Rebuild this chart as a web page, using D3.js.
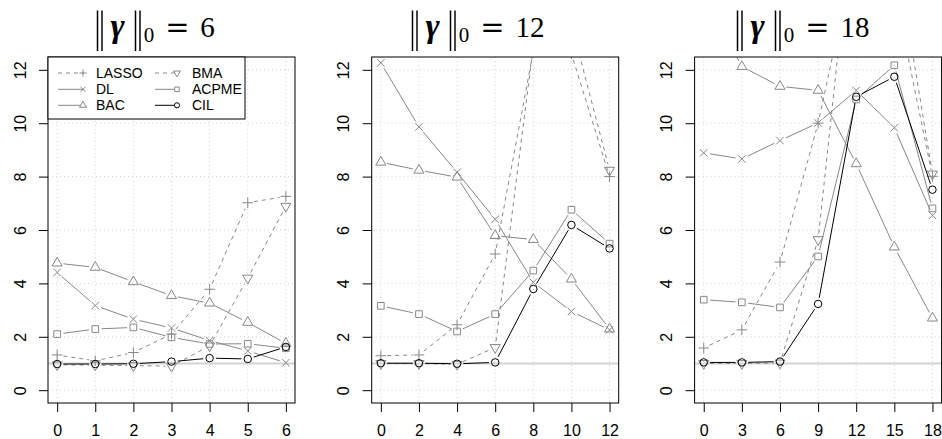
<!DOCTYPE html>
<html>
<head>
<meta charset="utf-8">
<script src="https://cdn.jsdelivr.net/npm/d3@7/dist/d3.min.js"></script>
<style>
  body { margin: 0; background: #fff; }
  svg { display: block; }
</style>
</head>
<body>
<svg id="fig" width="942" height="439"></svg>
<script>
// x positions (number of shifted coefficients) for each panel
const xs1 = [0, 1, 2, 3, 4, 5, 6];
const xs2 = [0, 2, 4, 6, 8, 10, 12];
const xs3 = [0, 3, 6, 9, 12, 15, 18];

// panel titles: ||gamma||_0 values
const sparsity = ["6", "12", "18"];

// y-axis ticks
const yTicks = [0, 2, 4, 6, 8, 10, 12];

// ||gamma||_0 = 6
const lasso1 = [1.32, 1.10, 1.41, 2.10, 3.78, 7.02, 7.26];
const dl1    = [4.41, 3.17, 2.66, 2.33, 1.86, 1.47, 1.03];
const bac1   = [4.76, 4.60, 4.06, 3.54, 3.26, 2.54, 1.75];
const bma1   = [0.95, 0.94, 0.92, 0.90, 1.66, 4.20, 6.89];
const acpme1 = [2.10, 2.29, 2.35, 1.98, 1.73, 1.74, 1.57];
const cil1   = [0.98, 0.98, 0.99, 1.07, 1.20, 1.17, 1.62];

// ||gamma||_0 = 12
const lasso2 = [1.29, 1.32, 2.45, 5.10, 12.70, 12.60, 8.00];
const dl2    = [12.26, 9.86, 8.16, 6.40, 4.04, 2.95, 2.26];
const bac2   = [8.54, 8.24, 7.98, 5.79, 5.64, 4.16, 2.29];
const bma2   = [1.00, 1.00, 0.97, 1.60, 12.90, 13.70, 8.24];
const acpme2 = [3.16, 2.85, 2.20, 2.85, 4.48, 6.76, 5.49];
const cil2   = [1.01, 1.01, 0.99, 1.04, 3.79, 6.19, 5.31];

// ||gamma||_0 = 18
const lasso3 = [1.58, 2.26, 4.80, 10.00, 16.60, 15.00, 8.01];
const dl3    = [8.89, 8.66, 9.35, 10.01, 11.23, 9.83, 6.55];
const bac3   = [14.80, 12.12, 11.38, 11.23, 8.48, 5.36, 2.70];
const bma3   = [1.00, 1.00, 1.02, 5.64, 19.00, 16.80, 8.10];
const acpme3 = [3.39, 3.29, 3.10, 5.01, 10.89, 12.17, 6.81];
const cil3   = [1.04, 1.04, 1.07, 3.23, 10.99, 11.74, 7.51];

const methods = ["LASSO", "DL", "BAC", "BMA", "ACPME", "CIL"];

const panels = [
  { xs: xs1, s: sparsity[0], data: [lasso1, dl1, bac1, bma1, acpme1, cil1] },
  { xs: xs2, s: sparsity[1], data: [lasso2, dl2, bac2, bma2, acpme2, cil2] },
  { xs: xs3, s: sparsity[2], data: [lasso3, dl3, bac3, bma3, acpme3, cil3] }
];

const GRAY = "#888888";
const style = {
  LASSO: { color: GRAY, dash: "4,4", pch: "plus" },
  DL:    { color: GRAY, dash: null,  pch: "cross" },
  BAC:   { color: GRAY, dash: null,  pch: "triUp" },
  BMA:   { color: GRAY, dash: "4,4", pch: "triDown" },
  ACPME: { color: GRAY, dash: null,  pch: "square" },
  CIL:   { color: "#000", dash: null, pch: "circle" }
};

// plotting symbols in the style of base graphics (size = symbol scale in px)
function symbolPath(type, size) {
  const R = 0.375 * size;
  switch (type) {
    case "circle":
      return `M${R},0A${R},${R} 0 1,1 ${-R},0A${R},${R} 0 1,1 ${R},0Z`;
    case "square": {
      const h = 0.8862269 * R;
      return `M${-h},${-h}H${h}V${h}H${-h}Z`;
    }
    case "triUp": {
      const r = 1.5551203 * R, xc = 0.8660254 * r, yc = 0.5 * r;
      return `M0,${-r}L${xc},${yc}L${-xc},${yc}Z`;
    }
    case "triDown": {
      const r = 1.5551203 * R, xc = 0.8660254 * r, yc = 0.5 * r;
      return `M0,${r}L${xc},${-yc}L${-xc},${-yc}Z`;
    }
    case "plus": {
      const c = Math.SQRT2 * R;
      return `M${-c},0H${c}M0,${-c}V${c}`;
    }
    case "cross": {
      const c = R;
      return `M${-c},${-c}L${c},${c}M${-c},${c}L${c},${-c}`;
    }
  }
}

const svg = d3.select("#fig");
const TOP = 57, BOTTOM = 403, WIDTH = 247;
const lefts = [48, 371.7, 694.6];
const titleLeft = [97, 412, 737];
const PT = 10;     // symbol scale
const GAP = 6.3;   // gap left around points on connecting lines
const SANS = "'Liberation Sans', Arial, sans-serif";
const SERIF = "'Liberation Serif', 'Times New Roman', serif";

// greyscale filter so the stretched norm bars render without colour fringes
svg.append("defs").append("filter").attr("id", "grey")
  .append("feColorMatrix").attr("type", "saturate").attr("values", 0);

const y = d3.scaleLinear().domain([-0.48, 12.48]).range([BOTTOM, TOP]);

panels.forEach((p, i) => {
  const L = lefts[i];
  const xmax = d3.max(p.xs);
  const pad = xmax * 0.04;
  const x = d3.scaleLinear().domain([-pad, xmax + pad]).range([L, L + WIDTH]);

  const g = svg.append("g");
  const clipId = `clip${i}`;
  svg.append("clipPath").attr("id", clipId)
    .append("rect").attr("x", L).attr("y", TOP)
    .attr("width", WIDTH).attr("height", BOTTOM - TOP);

  // dotted grid
  const grid = g.append("g").attr("stroke", "#d3d3d3").attr("stroke-width", 1)
    .attr("stroke-dasharray", "1,3");
  grid.selectAll("line.v").data(p.xs).join("line").attr("class", "v")
    .attr("x1", d => x(d)).attr("x2", d => x(d)).attr("y1", TOP).attr("y2", BOTTOM);
  grid.selectAll("line.h").data(yTicks).join("line").attr("class", "h")
    .attr("x1", L).attr("x2", L + WIDTH).attr("y1", d => y(d)).attr("y2", d => y(d));

  // reference line at 1
  g.append("line").attr("x1", L).attr("x2", L + WIDTH)
    .attr("y1", y(1)).attr("y2", y(1))
    .attr("stroke", "#d3d3d3").attr("stroke-width", 2);

  const plot = g.append("g").attr("clip-path", `url(#${clipId})`);

  methods.forEach((m, k) => {
    const st = style[m];
    const pts = p.xs.map((xv, j) => [x(xv), y(p.data[k][j])]);
    // connecting segments with gaps around the points
    const segs = [];
    for (let j = 0; j < pts.length - 1; j++) {
      const [x0, y0] = pts[j], [x1, y1] = pts[j + 1];
      const d = Math.hypot(x1 - x0, y1 - y0);
      if (d > 2 * GAP) {
        const f = GAP / d;
        segs.push([x0 + (x1 - x0) * f, y0 + (y1 - y0) * f,
                   x1 - (x1 - x0) * f, y1 - (y1 - y0) * f]);
      }
    }
    plot.append("g").selectAll("line").data(segs).join("line")
      .attr("x1", d => d[0]).attr("y1", d => d[1])
      .attr("x2", d => d[2]).attr("y2", d => d[3])
      .attr("stroke", st.color).attr("stroke-width", 1)
      .attr("stroke-dasharray", st.dash);
    plot.append("g").selectAll("path").data(pts).join("path")
      .attr("transform", d => `translate(${d[0]},${d[1]})`)
      .attr("d", symbolPath(st.pch, PT))
      .attr("fill", "none").attr("stroke", st.color).attr("stroke-width", 1);
  });

  // axes
  const xAxis = d3.axisBottom(x).tickValues(p.xs).tickSize(9).tickPadding(13)
    .tickFormat(d3.format("d"));
  const gx = g.append("g").attr("transform", `translate(0,${BOTTOM})`).call(xAxis);
  gx.select(".domain").remove();
  gx.selectAll("text").attr("font-family", SANS)
    .attr("font-size", 16).attr("fill", "#000");

  const yAxis = d3.axisLeft(y).tickValues(yTicks).tickSize(9).tickFormat(d3.format("d"));
  const gy = g.append("g").attr("transform", `translate(${L},0)`).call(yAxis);
  gy.select(".domain").remove();
  gy.selectAll("text")
    .attr("x", null).attr("dy", "0.35em")
    .attr("transform", "translate(-28,0) rotate(-90)")
    .attr("text-anchor", "middle")
    .attr("font-family", SANS)
    .attr("font-size", 16).attr("fill", "#000");

  // box
  g.append("rect").attr("x", L).attr("y", TOP).attr("width", WIDTH)
    .attr("height", BOTTOM - TOP).attr("fill", "none").attr("stroke", "#000");

  // title  ||gamma||_0 = s
  const T = titleLeft[i];
  const tg = g.append("g").attr("font-family", SERIF).attr("fill", "#000");
  // norm bars, stretched vertically to span the full line height
  const bars = tg.append("g").attr("filter", "url(#grey)");
  [T - 2.5, T + 35.5].forEach(bx => {
    bars.append("text")
      .attr("transform", `translate(${bx},42) scale(1,1.45)`)
      .attr("font-size", 30).attr("letter-spacing", -1.5).text("||");
  });
  tg.append("text").attr("x", T + 20.5).attr("y", 37).attr("text-anchor", "middle")
    .attr("font-size", 34).attr("font-weight", "bold").attr("font-style", "italic")
    .text("\u03b3");
  tg.append("text").attr("x", T + 52).attr("y", 41.5).attr("text-anchor", "middle")
    .attr("font-size", 21).text("0");
  tg.append("text").attr("x", T + 80.5).attr("y", 37).attr("text-anchor", "middle")
    .attr("font-family", "'DejaVu Serif', serif").attr("font-size", 29).text("=");
  tg.append("text").attr("x", T + 103 + 7.5 * p.s.length).attr("y", 37)
    .attr("text-anchor", "middle").attr("font-size", 29).text(p.s);

  // legend in the first panel
  if (i === 0) {
    const lg = g.append("g");
    lg.append("rect").attr("x", L).attr("y", TOP).attr("width", 197).attr("height", 62)
      .attr("fill", "#fff").attr("stroke", "#000");
    const cols = [[0, 1, 2], [3, 4, 5]];
    const colX = [[58, 83, 96], [155, 177, 192]];
    const rowY = [73, 89.3, 105.3];
    cols.forEach((col, c) => {
      col.forEach((k, r) => {
        const m = methods[k], st = style[m];
        const [lx0, mx, tx] = colX[c];
        const yy = rowY[r];
        lg.append("line").attr("x1", lx0).attr("x2", mx).attr("y1", yy).attr("y2", yy)
          .attr("stroke", st.color).attr("stroke-dasharray", st.dash);
        lg.append("path").attr("transform", `translate(${mx},${yy})`)
          .attr("d", symbolPath(st.pch, PT * 0.68))
          .attr("fill", "#fff").attr("stroke", st.color);
        lg.append("text").attr("x", tx).attr("y", yy).attr("dy", "0.36em")
          .attr("font-family", SANS)
          .attr("font-size", 14).attr("fill", "#000").text(m);
      });
    });
  }
});
</script>
</body>
</html>
